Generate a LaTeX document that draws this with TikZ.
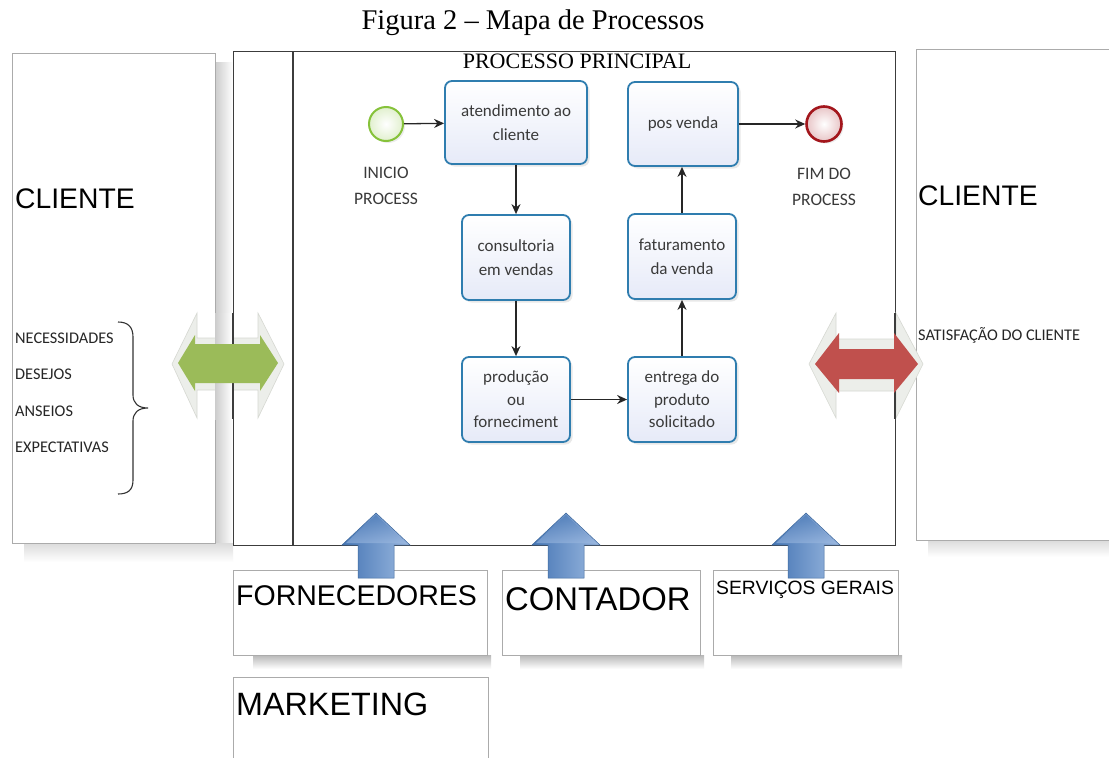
\documentclass[tikz,border=0pt]{standalone}
\usepackage{fontspec}
\setmainfont{Liberation Serif}
\newfontfamily\arialf{Liberation Sans}
\newfontfamily\calibf{Carlito}
\usetikzlibrary{arrows.meta,shadows}
\definecolor{procblue}{HTML}{2F7DAF}
\definecolor{procfill}{HTML}{E6EAF8}
\definecolor{txtgray}{HTML}{3A3A3A}
\definecolor{startgreen}{HTML}{86C23A}
\definecolor{endred}{HTML}{A3161C}
\definecolor{boxgray}{HTML}{ABABAB}
\definecolor{framegray}{HTML}{3C3C3C}
\definecolor{arrgreen}{HTML}{9BBB59}
\definecolor{arrred}{HTML}{C0504D}
\definecolor{glow}{HTML}{ECEEEA}
\definecolor{glowline}{HTML}{D6D8D2}
\definecolor{bluedark}{HTML}{4676B4}
\definecolor{bluelight}{HTML}{9BB8E0}
\definecolor{blueline}{HTML}{3C679C}
\tikzset{
  procbox/.style={draw=procblue, line width=1.8pt, rounded corners=7pt,
    top color=white, bottom color=procfill, align=center,
    font=\calibf\fontsize{17}{24}\selectfont, text=txtgray,
    inner sep=0pt, drop shadow={shadow xshift=2.5pt, shadow yshift=-2.5pt, opacity=0.18}},
  evlabel/.style={align=center, font=\calibf\fontsize{17.5}{26}\selectfont, text=txtgray},
  flow/.style={line width=1.3pt, draw=black!85, -{Stealth[length=10pt,width=9pt]}},
  sidebox/.style={draw=boxgray, line width=0.8pt, fill=white},
  smalltxt/.style={font=\calibf\fontsize{16.3}{18}\selectfont, text=black!85, anchor=base west, inner sep=0pt},
  frameline/.style={draw=framegray, line width=1.3pt},
  pipe/.style={left color=black!20, right color=white},
}
\begin{document}
\begin{tikzpicture}[x=1pt,y=-1pt]
\useasboundingbox[fill=white] (0,0) rectangle (1109,758);

% caption
\node[font=\fontsize{28.5}{30}\selectfont, anchor=base] (cap) at (533,29) {Figura 2 -- Mapa de Processos};

% ---------- left client box ----------
\shade[pipe] (215,62) rectangle (233,548);
\shade[top color=black!14, bottom color=white] (24,543) rectangle (233,562);
\node[sidebox, minimum width=203pt, minimum height=490pt, anchor=north west, inner sep=0pt] (lcli) at (12,53) {};
\node[font=\arialf\fontsize{28.3}{30}\selectfont, anchor=base west, inner sep=0pt] (lclit) at (15,208) {CLIENTE};
\node[smalltxt] (n1) at (15,343) {NECESSIDADES};
\node[smalltxt] (n2) at (15,379) {DESEJOS};
\node[smalltxt] (n3) at (15,416) {ANSEIOS};
\node[smalltxt] (n4) at (15,452) {EXPECTATIVAS};
\draw[black!80, line width=1.1pt]
  (118,322) .. controls (128,322) and (133,327) .. (133,337) -- (133,395)
  .. controls (133,403) and (138,408) .. (148,408)
  .. controls (138,408) and (133,413) .. (133,421) -- (133,480)
  .. controls (133,490) and (128,494) .. (118,494);

% ---------- right client box ----------
\shade[top color=black!14, bottom color=white] (928,540) rectangle (1109,557);
\node[sidebox, minimum width=200pt, minimum height=491pt, anchor=north west, inner sep=0pt] (rcli) at (916,49) {};
\node[font=\arialf\fontsize{28.3}{30}\selectfont, anchor=base west, inner sep=0pt] (rclit) at (918,205) {CLIENTE};
\node[smalltxt] (sat) at (918,340) {SATISFAÇÃO DO CLIENTE};

% ---------- main frame ----------
\node[frameline, minimum width=662pt, minimum height=494pt, anchor=north west, inner sep=0pt] (frame) at (233,51) {};
\draw[frameline] (293,51) -- (293,545);
\node[fill=white, inner sep=1pt, font=\fontsize{22}{22}\selectfont, anchor=base] (title) at (577,68) {PROCESSO PRINCIPAL};

% ---------- double arrows ----------
% green
\fill[glow, draw=glowline, line width=0.6pt] (172,364) -- (197,313) -- (197,338) -- (258,338) -- (258,313) -- (284,364)
  -- (258,418) -- (258,390) -- (197,390) -- (197,418) -- cycle;
\shade[pipe] (215,313) rectangle (232,419);
\draw[frameline] (233,313) -- (233,419);
\fill[arrgreen] (178,363) -- (195,335) -- (195,344) -- (260,344) -- (260,335) -- (278,363)
  -- (260,391) -- (260,383) -- (195,383) -- (195,391) -- cycle;
% red
\fill[glow, draw=glowline, line width=0.6pt] (809,364) -- (836,313) -- (836,339) -- (896,339) -- (896,313) -- (923,364)
  -- (896,418) -- (896,391) -- (836,391) -- (836,418) -- cycle;
\draw[frameline] (895,313) -- (895,419);
\fill[arrred] (815,364) -- (839,333) -- (839,349) -- (894,349) -- (894,333) -- (918,364)
  -- (894,393) -- (894,379) -- (839,379) -- (839,393) -- cycle;

% ---------- process ----------
\node[circle, draw=startgreen, line width=2pt, minimum size=34pt, inner sep=0pt,
  inner color=white, outer color=startgreen!25,
  drop shadow={shadow xshift=2pt, shadow yshift=-2pt, opacity=0.15}] (start) at (386,124) {};
\node[evlabel] (startl) at (386,186) {INICIO\\PROCESS};
\node[circle, draw=endred, line width=2.6pt, minimum size=35pt, inner sep=0pt,
  inner color=white, outer color=endred!25,
  drop shadow={shadow xshift=2pt, shadow yshift=-2pt, opacity=0.15}] (end) at (824,124) {};
\node[evlabel] (endl) at (824,187) {FIM DO\\PROCESS};

\node[procbox, minimum width=142pt, minimum height=83pt] (aten) at (516,122.5) {atendimento ao\\cliente};
\node[procbox, minimum width=110pt, minimum height=84pt] (pos) at (683,124) {pos venda};
\node[procbox, minimum width=108pt, minimum height=85pt] (cons) at (516,257.5) {consultoria\\em vendas};
\node[procbox, minimum width=108pt, minimum height=85pt] (fat) at (682,256.5) {faturamento\\da venda};
\node[procbox, minimum width=108pt, minimum height=85pt, font=\calibf\fontsize{17}{22.5}\selectfont] (prod) at (516,399.5) {produção\\ou\\forneciment};
\node[procbox, minimum width=108pt, minimum height=85pt, font=\calibf\fontsize{17}{22.5}\selectfont] (entr) at (682,399.5) {entrega do\\produto\\solicitado};

\draw[flow] (start) -- (aten);
\draw[flow] (aten) -- (cons);
\draw[flow] (cons) -- (prod);
\draw[flow] (prod) -- (entr);
\draw[flow] (entr) -- (fat);
\draw[flow] (fat.north) -- (pos.south -| fat.north);
\draw[flow] (pos) -- (end);

% ---------- bottom boxes ----------
\shade[top color=black!28, bottom color=white] (253,655) rectangle (491,669);
\shade[top color=black!28, bottom color=white] (520,655) rectangle (704,669);
\shade[top color=black!28, bottom color=white] (731,655) rectangle (902,669);
\node[sidebox, minimum width=254pt, minimum height=85pt, anchor=north west, inner sep=0pt] (forn) at (233,570) {};
\node[sidebox, minimum width=198pt, minimum height=85pt, anchor=north west, inner sep=0pt] (cont) at (502,570) {};
\node[sidebox, minimum width=185pt, minimum height=85pt, anchor=north west, inner sep=0pt] (serv) at (713,570) {};
\node[sidebox, minimum width=255pt, minimum height=90pt, anchor=north west, inner sep=0pt] (mark) at (233,677) {};
\node[font=\arialf\fontsize{28.5}{30}\selectfont, anchor=base west, inner sep=0pt] (fornt) at (236,605) {FORNECEDORES};
\node[font=\arialf\fontsize{32.8}{34}\selectfont, anchor=base west, inner sep=0pt] (contt) at (505,610) {CONTADOR};
\node[font=\arialf\fontsize{19.3}{21}\selectfont, anchor=base west, inner sep=0pt] (servt) at (716,594) {SERVIÇOS GERAIS};
\node[font=\arialf\fontsize{32.3}{33}\selectfont, anchor=base west, inner sep=0pt] (markt) at (236,715) {MARKETING};

% ---------- blue up arrows ----------
\foreach \cx in {376,566,806} {
  \shade[left color=bluedark, right color=bluelight, draw=blueline, line width=0.5pt]
    (\cx,513) -- (\cx+34,545) -- (\cx+18,545) -- (\cx+18,578) -- (\cx-18,578) -- (\cx-18,545) -- (\cx-34,545) -- cycle;
  \shade[top color=bluedark, bottom color=bluelight, opacity=0.6]
    (\cx,515) -- (\cx+30,543) -- (\cx-30,543) -- cycle;
}
\end{tikzpicture}
\end{document}
